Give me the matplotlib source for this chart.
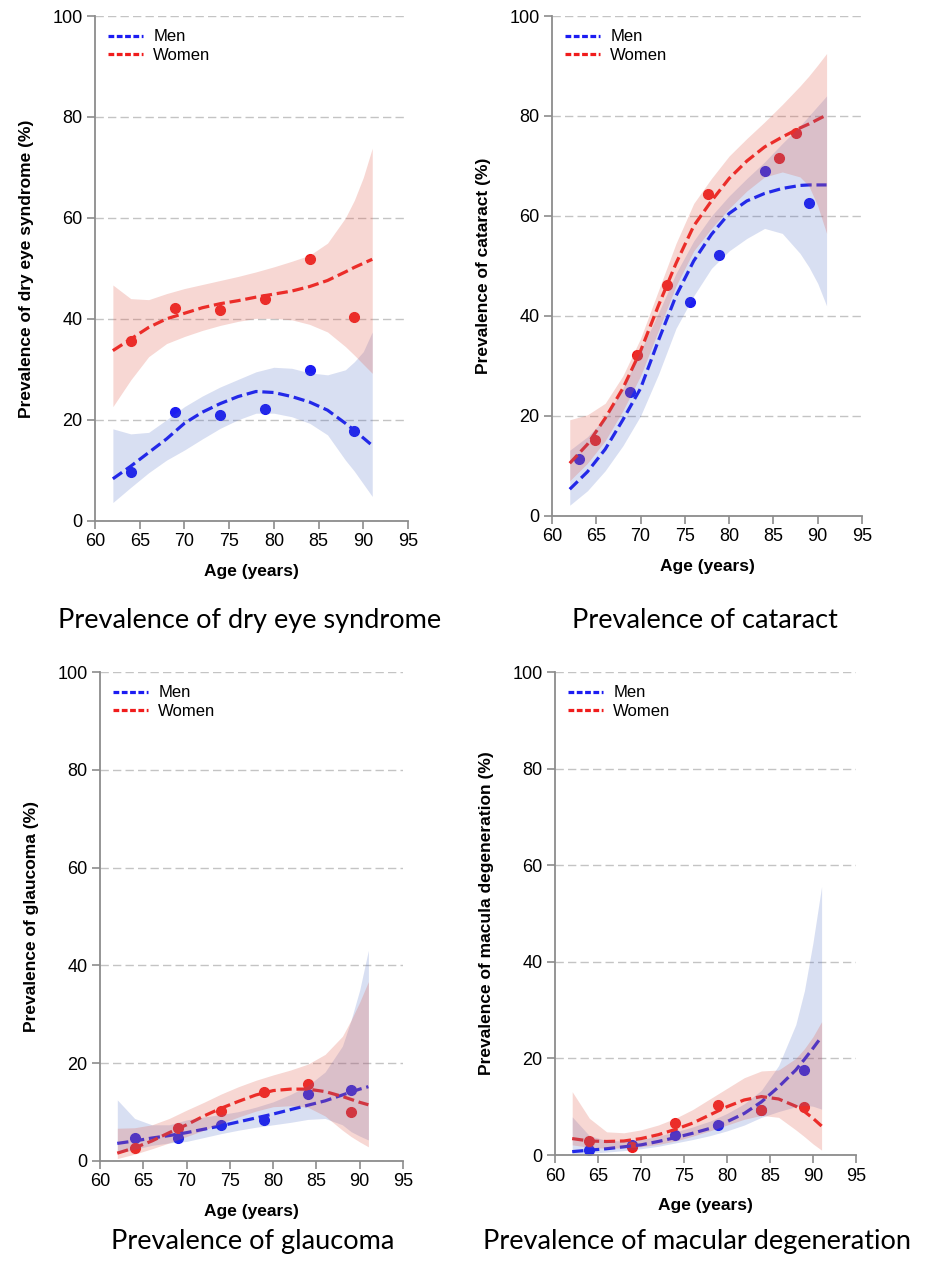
import matplotlib
matplotlib.use("Agg")
import matplotlib.pyplot as plt
from matplotlib.lines import Line2D

# common age grid for the fitted curves and their 95% bands
fit_ages = [62, 64, 66, 68, 70, 72, 74, 76, 78, 80, 82, 84, 86, 88, 89, 90, 91]

# --- dry eye syndrome ---
dry_ages = [64, 69, 74, 79, 84, 89]
dry_men = [9.6, 21.5, 20.9, 22.1, 29.9, 17.8]
dry_women = [35.6, 42.2, 41.7, 43.9, 51.8, 40.4]
dry_men_fit = [8.3, 10.8, 13.5, 16.2, 19.3, 21.5, 23.2, 24.6, 25.6, 25.4, 24.6, 23.5, 21.9, 19.3, 17.9, 16.4, 14.9]
dry_men_lo = [3.6, 6.6, 9.5, 12.0, 14.0, 16.2, 18.3, 20.0, 21.3, 21.3, 20.6, 19.3, 17.0, 12.0, 9.8, 7.3, 4.8]
dry_men_hi = [18.2, 17.2, 17.5, 20.0, 22.6, 24.7, 26.5, 28.0, 29.5, 30.4, 30.2, 29.3, 28.9, 29.9, 31.5, 33.5, 37.4]
dry_women_fit = [33.7, 36.0, 38.3, 40.0, 41.1, 42.2, 43.0, 43.6, 44.3, 44.9, 45.5, 46.4, 47.6, 49.3, 50.2, 51.0, 51.8]
dry_women_lo = [22.6, 27.9, 32.5, 35.1, 36.5, 37.7, 38.7, 39.5, 40.1, 40.1, 39.8, 38.9, 37.4, 34.5, 32.8, 31.0, 29.2]
dry_women_hi = [46.7, 44.0, 43.8, 45.0, 46.0, 46.8, 47.6, 48.4, 49.3, 50.3, 51.4, 52.6, 55.0, 60.0, 63.5, 68.0, 73.8]

# --- cataract ---
cat_men_ages = [63.1, 68.8, 75.6, 78.9, 84.1, 89.0]
cat_men = [11.3, 24.8, 42.8, 52.2, 68.9, 62.5]
cat_women_ages = [64.9, 69.6, 73.0, 77.6, 85.6, 87.6]
cat_women = [15.1, 32.1, 46.2, 64.4, 71.6, 76.5]
cat_men_fit = [5.3, 8.8, 13.3, 19.2, 25.5, 35.0, 44.0, 51.0, 56.3, 60.5, 63.0, 64.5, 65.5, 66.1, 66.2, 66.2, 66.2]
cat_men_lo = [2.1, 5.0, 9.0, 14.0, 20.0, 28.2, 37.5, 44.0, 49.5, 53.0, 55.5, 57.5, 56.5, 52.5, 49.8, 46.5, 42.0]
cat_men_hi = [13.1, 15.8, 19.5, 25.5, 33.0, 40.5, 48.5, 55.0, 60.0, 64.0, 67.5, 70.8, 74.5, 78.0, 80.0, 82.0, 84.0]
cat_women_fit = [10.5, 14.3, 19.5, 25.5, 33.0, 42.0, 50.5, 58.0, 63.0, 67.5, 71.0, 73.8, 75.8, 77.6, 78.4, 79.3, 80.2]
cat_women_lo = [7.0, 10.5, 15.0, 21.0, 28.0, 37.0, 46.0, 53.0, 57.5, 61.5, 65.0, 67.8, 68.8, 67.8, 66.0, 62.0, 56.5]
cat_women_hi = [19.2, 20.2, 22.5, 28.0, 35.5, 45.0, 54.5, 62.5, 67.5, 72.0, 75.5, 78.8, 82.3, 86.0, 88.0, 90.2, 92.5]

# --- glaucoma ---
gla_ages = [64, 69, 74, 79, 84, 89]
gla_men = [4.8, 4.8, 7.4, 8.3, 13.6, 14.6]
gla_women = [2.7, 6.8, 10.2, 14.1, 15.8, 10.0]
gla_men_fit = [3.6, 4.1, 4.7, 5.2, 5.8, 6.5, 7.2, 8.0, 8.8, 9.6, 10.5, 11.4, 12.3, 13.5, 14.1, 14.7, 15.2]
gla_men_lo = [1.6, 2.4, 3.2, 3.7, 4.0, 4.8, 5.6, 6.3, 6.9, 7.4, 7.9, 8.5, 8.7, 7.4, 6.0, 5.1, 4.3]
gla_men_hi = [12.5, 8.7, 7.4, 7.4, 8.4, 9.0, 9.5, 10.1, 11.0, 12.1, 13.6, 15.4, 18.2, 23.5, 28.8, 35.0, 43.1]
gla_women_fit = [1.6, 2.7, 4.1, 5.8, 7.4, 9.2, 10.8, 12.2, 13.5, 14.4, 14.7, 14.7, 14.2, 13.2, 12.6, 12.0, 11.5]
gla_women_lo = [0.5, 1.4, 2.5, 3.7, 5.0, 6.3, 7.7, 9.0, 10.2, 11.1, 11.3, 11.0, 9.2, 6.3, 5.0, 3.9, 2.9]
gla_women_hi = [6.7, 6.8, 7.4, 8.7, 10.4, 12.0, 13.7, 15.2, 16.5, 17.6, 18.6, 19.8, 21.8, 25.5, 28.8, 32.5, 36.7]

# --- macular degeneration ---
mac_ages = [64, 69, 74, 79, 84, 89]
mac_men = [1.0, 2.0, 4.1, 6.3, 9.4, 17.5]
mac_women = [3.0, 1.7, 6.6, 10.4, 9.3, 9.9]
mac_men_fit = [0.7, 1.0, 1.3, 1.7, 2.1, 2.8, 3.6, 4.5, 5.5, 6.9, 8.6, 11.0, 14.1, 17.6, 19.8, 22.1, 24.5]
mac_men_lo = [0.2, 0.4, 0.6, 0.9, 1.3, 1.8, 2.5, 3.2, 4.0, 5.0, 6.2, 7.8, 9.0, 10.0, 10.3, 10.1, 9.5]
mac_men_hi = [7.9, 4.0, 3.0, 2.9, 3.2, 3.9, 4.8, 5.8, 7.0, 8.6, 10.6, 13.4, 18.5, 27.0, 34.0, 44.0, 55.6]
mac_women_fit = [3.4, 2.9, 2.8, 2.9, 3.4, 4.2, 5.3, 6.6, 8.3, 10.0, 11.4, 12.1, 11.6, 10.1, 9.0, 7.6, 6.0]
mac_women_lo = [2.1, 1.6, 1.4, 1.5, 1.7, 2.2, 2.9, 3.9, 5.0, 6.2, 7.4, 8.2, 7.8, 5.2, 3.8, 2.3, 1.0]
mac_women_hi = [13.1, 7.6, 4.8, 4.6, 5.2, 6.2, 7.6, 9.4, 11.6, 13.8, 16.0, 17.4, 17.6, 20.0, 22.0, 24.5, 27.6]

BLUE = '#1c1cf2'
RED = '#f01c1c'
BLUE_BAND = '#4060c0'
RED_BAND = '#e06050'
GREY = '#8c8c8c'


def draw_panel(ax, men_x, men_y, women_x, women_y,
               m_fit, m_lo, m_hi, w_fit, w_lo, w_hi, ylabel):
    ax.plot(men_x, men_y, 'o', color=BLUE, ms=7, zorder=2)
    ax.plot(women_x, women_y, 'o', color=RED, ms=7, zorder=2)
    ax.plot(fit_ages, m_fit, color=BLUE, lw=2.3, dashes=(3.5, 1.5), zorder=3)
    ax.plot(fit_ages, w_fit, color=RED, lw=2.3, dashes=(3.5, 1.5), zorder=3)
    ax.fill_between(fit_ages, m_lo, m_hi, color=BLUE_BAND, alpha=0.2, lw=0, zorder=4)
    ax.fill_between(fit_ages, w_lo, w_hi, color=RED_BAND, alpha=0.25, lw=0, zorder=4)

    ax.set_xlim(60, 95)
    ax.set_ylim(0, 100)
    ax.set_xticks(range(60, 96, 5))
    ax.set_yticks(range(0, 101, 20))
    ax.yaxis.grid(True, color='#c4c4c4', lw=1, dashes=(6, 3))
    ax.set_axisbelow(True)
    for s in ['top', 'right']:
        ax.spines[s].set_visible(False)
    for s in ['left', 'bottom']:
        ax.spines[s].set_color(GREY)
        ax.spines[s].set_linewidth(1.3)
        ax.spines[s].set_zorder(5)
    ax.tick_params(direction='out', length=6, width=1.2, color=GREY,
                   labelsize=13, pad=3)
    ax.set_xlabel('Age (years)', fontsize=12.5, fontweight='bold', labelpad=10)
    ax.set_ylabel(ylabel, fontsize=12.5, fontweight='bold', labelpad=13)

    # legend keys drawn with short dashes as in the original
    handles = [Line2D([], [], color=BLUE, lw=2.3, dashes=(1.8, 0.8)),
               Line2D([], [], color=RED, lw=2.3, dashes=(1.8, 0.8))]
    leg = ax.legend(handles, ['Men', 'Women'], loc='upper left', frameon=False,
                    fontsize=12, handlelength=2.1, handletextpad=0.6,
                    labelspacing=0.2, borderaxespad=0.4,
                    bbox_to_anchor=(0.0, 1.0))
    leg.set_zorder(6)


plt.rcParams['font.family'] = ['Liberation Sans', 'DejaVu Sans']

fig = plt.figure(figsize=(9.25, 12.74), dpi=100)

ax1 = fig.add_axes([0.1027, 0.5913, 0.3384, 0.3961])
ax2 = fig.add_axes([0.5968, 0.5952, 0.3351, 0.3922])
ax3 = fig.add_axes([0.1081, 0.0887, 0.3276, 0.3838])
ax4 = fig.add_axes([0.6000, 0.0934, 0.3254, 0.3791])

draw_panel(ax1, dry_ages, dry_men, dry_ages, dry_women,
           dry_men_fit, dry_men_lo, dry_men_hi,
           dry_women_fit, dry_women_lo, dry_women_hi,
           'Prevalence of dry eye syndrome (%)')
draw_panel(ax2, cat_men_ages, cat_men, cat_women_ages, cat_women,
           cat_men_fit, cat_men_lo, cat_men_hi,
           cat_women_fit, cat_women_lo, cat_women_hi,
           'Prevalence of cataract (%)')
draw_panel(ax3, gla_ages, gla_men, gla_ages, gla_women,
           gla_men_fit, gla_men_lo, gla_men_hi,
           gla_women_fit, gla_women_lo, gla_women_hi,
           'Prevalence of glaucoma (%)')
draw_panel(ax4, mac_ages, mac_men, mac_ages, mac_women,
           mac_men_fit, mac_men_lo, mac_men_hi,
           mac_women_fit, mac_women_lo, mac_women_hi,
           'Prevalence of macula degeneration (%)')

# captions under each panel
cap_font = dict(fontsize=19.5, family=['Lato', 'DejaVu Sans'], ha='center', va='center')
fig.text(250 / 925, 1 - 621 / 1274, 'Prevalence of dry eye syndrome', **cap_font)
fig.text(705 / 925, 1 - 621 / 1274, 'Prevalence of cataract', **cap_font)
fig.text(253 / 925, 1 - 1242 / 1274, 'Prevalence of glaucoma', **cap_font)
fig.text(697 / 925, 1 - 1242 / 1274, 'Prevalence of macular degeneration', **cap_font)

fig.savefig('out.png', dpi=100)
